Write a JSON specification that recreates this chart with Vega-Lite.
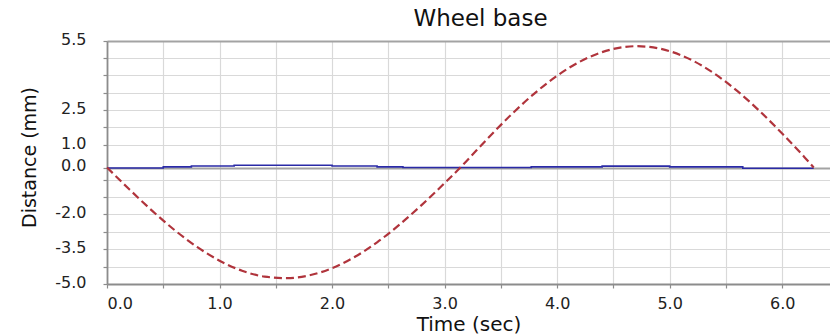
{
  "$schema": "https://vega.github.io/schema/vega-lite/v6.json",
  "width": 723,
  "height": 243,
  "autosize": {"type": "none"},
  "padding": {"left": 107, "top": 41, "right": 0, "bottom": 52},
  "background": "white",
  "config": {"view": {"stroke": null}, "font": "DejaVu Sans"},
  "title": {
    "text": "Wheel base",
    "font": "DejaVu Sans",
    "fontSize": 23,
    "fontWeight": "normal",
    "color": "#111111",
    "anchor": "middle",
    "offset": 0,
    "dx": 12
  },
  "data": {
    "values": [
      {"series": "s1", "t": 0, "d": -0.02},
      {"series": "s1", "t": 0.5, "d": 0.03},
      {"series": "s1", "t": 0.75, "d": 0.07},
      {"series": "s1", "t": 1.13, "d": 0.1},
      {"series": "s1", "t": 2.0, "d": 0.07},
      {"series": "s1", "t": 2.4, "d": 0.03},
      {"series": "s1", "t": 2.63, "d": 0.0},
      {"series": "s1", "t": 3.77, "d": 0.03},
      {"series": "s1", "t": 4.4, "d": 0.06},
      {"series": "s1", "t": 5.0, "d": 0.03},
      {"series": "s1", "t": 5.65, "d": -0.03},
      {"series": "s1", "t": 6.28, "d": -0.03},
      {"series": "s2", "t": 0, "d": 0},
      {"series": "s2", "t": 0.2, "d": -0.946},
      {"series": "s2", "t": 0.4, "d": -1.854},
      {"series": "s2", "t": 0.6, "d": -2.686},
      {"series": "s2", "t": 0.8, "d": -3.41},
      {"series": "s2", "t": 1.0, "d": -4.0},
      {"series": "s2", "t": 1.2, "d": -4.43},
      {"series": "s2", "t": 1.4, "d": -4.683},
      {"series": "s2", "t": 1.6, "d": -4.749},
      {"series": "s2", "t": 1.8, "d": -4.627},
      {"series": "s2", "t": 2.0, "d": -4.321},
      {"series": "s2", "t": 2.2, "d": -3.843},
      {"series": "s2", "t": 2.4, "d": -3.213},
      {"series": "s2", "t": 2.6, "d": -2.453},
      {"series": "s2", "t": 2.8, "d": -1.595},
      {"series": "s2", "t": 3.0, "d": -0.672},
      {"series": "s2", "t": 3.14, "d": 0},
      {"series": "s2", "t": 3.2, "d": 0.315},
      {"series": "s2", "t": 3.4, "d": 1.364},
      {"series": "s2", "t": 3.6, "d": 2.337},
      {"series": "s2", "t": 3.8, "d": 3.226},
      {"series": "s2", "t": 4.0, "d": 3.991},
      {"series": "s2", "t": 4.2, "d": 4.596},
      {"series": "s2", "t": 4.4, "d": 5.017},
      {"series": "s2", "t": 4.6, "d": 5.239},
      {"series": "s2", "t": 4.7, "d": 5.274},
      {"series": "s2", "t": 4.8, "d": 5.252},
      {"series": "s2", "t": 5.0, "d": 5.057},
      {"series": "s2", "t": 5.2, "d": 4.661},
      {"series": "s2", "t": 5.4, "d": 4.074},
      {"series": "s2", "t": 5.6, "d": 3.33},
      {"series": "s2", "t": 5.8, "d": 2.453},
      {"series": "s2", "t": 6.0, "d": 1.489},
      {"series": "s2", "t": 6.2, "d": 0.449},
      {"series": "s2", "t": 6.28, "d": 0}
    ]
  },
  "encoding": {
    "x": {
      "field": "t",
      "type": "quantitative",
      "scale": {"domain": [0, 6.425], "nice": false, "zero": false},
      "axis": {
        "title": "Time (sec)",
        "values": [0, 0.5, 1, 1.5, 2, 2.5, 3, 3.5, 4, 4.5, 5, 5.5, 6],
        "labelExpr": "datum.value % 1 === 0 ? format(datum.value, '.1f') : ''",
        "labelFlush": true,
        "labelFont": "DejaVu Sans",
        "labelFontSize": 16,
        "labelColor": "#222222",
        "labelPadding": 7,
        "domainColor": "#8c8c8c",
        "domainWidth": 1.8,
        "tickColor": "#8c8c8c",
        "tickSize": 4,
        "tickWidth": 1.2,
        "grid": true,
        "gridColor": "#d9d9d9",
        "gridWidth": 1.2,
        "titleFont": "DejaVu Sans",
        "titleFontSize": 20,
        "titleFontWeight": "normal",
        "titleColor": "#111111",
        "titleBaseline": "alphabetic",
        "titleY": 46
      }
    },
    "y": {
      "field": "d",
      "type": "quantitative",
      "scale": {
        "domain": [-5, -3.5, -2, 0, 1, 2.5, 5.5],
        "range": [243, 208, 173, 126.5, 104, 69, 0],
        "nice": false,
        "zero": false
      },
      "axis": {
        "title": "Distance (mm)",
        "values": [5.5, 4.78, 4.02, 3.25, 2.5, 1.76, 1, 0, -0.54, -1.26, -2, -2.76, -3.5, -4.26, -5],
        "labelExpr": "(datum.value === 5.5 || datum.value === 2.5 || datum.value === 1 || datum.value === 0 || datum.value === -2 || datum.value === -3.5 || datum.value === -5) ? (datum.value < 0 ? '-' + format(-datum.value, '.1f') : format(datum.value, '.1f')) : ''",
        "labelFont": "DejaVu Sans",
        "labelFontSize": 16,
        "labelColor": "#222222",
        "labelPadding": 17,
        "labelOffset": -2,
        "domainColor": "#8c8c8c",
        "domainWidth": 1.8,
        "tickColor": "#8c8c8c",
        "tickSize": 4,
        "tickWidth": 1.2,
        "grid": true,
        "gridColor": {
          "condition": {"test": "datum.value === 0 || datum.value === 5.5", "value": "#a3a3a3"},
          "value": "#d9d9d9"
        },
        "gridWidth": {
          "condition": {"test": "datum.value === 0 || datum.value === 5.5", "value": 2},
          "value": 1.2
        },
        "titleFont": "DejaVu Sans",
        "titleFontSize": 19,
        "titleFontWeight": "normal",
        "titleColor": "#111111",
        "titleBaseline": "alphabetic",
        "titleX": -72,
        "titleY": 116
      }
    }
  },
  "layer": [
    {
      "transform": [{"filter": "datum.series === 's1'"}],
      "mark": {"type": "line", "interpolate": "step-after", "color": "#2a2aa6", "strokeWidth": 1.6}
    },
    {
      "transform": [{"filter": "datum.series === 's2'"}],
      "mark": {"type": "line", "interpolate": "monotone", "color": "#b0343c", "strokeWidth": 2.2, "strokeDash": [8, 4]}
    }
  ]
}
